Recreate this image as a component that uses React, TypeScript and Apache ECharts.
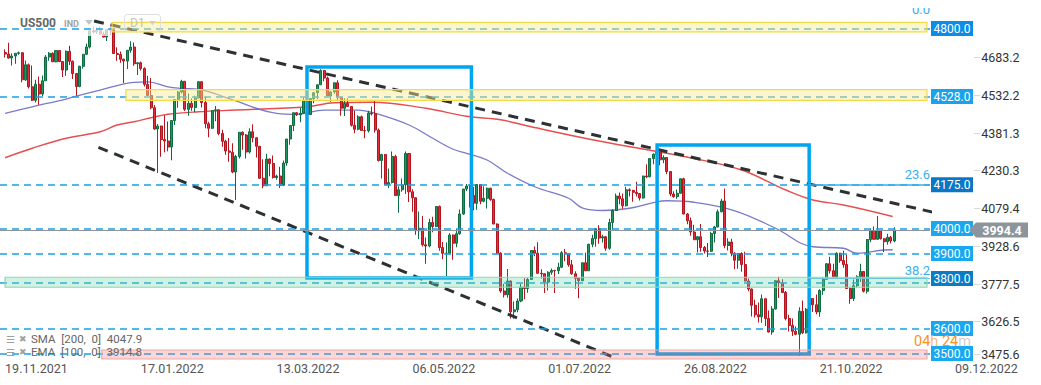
import React, { useEffect, useRef } from "react";
import * as echarts from "echarts";

const FONT = "Roboto, 'Liberation Sans', sans-serif";

// category axis: index 0 is an empty pad, candles occupy 1..263, the rest is empty future space
const categoryCount = 274;
const dateLabels = ["19.11.2021", "17.01.2022", "13.03.2022", "06.05.2022", "01.07.2022", "26.08.2022", "21.10.2022"];
const extraDateLabel = "09.12.2022";
const labelEvery = 40;
const yTickLabels = ["3475.6", "3626.5", "3777.5", "3928.6", "4079.4", "4230.3", "4381.3", "4532.2", "4683.2"];
const yMin = 3475.6;
const yStep = 150.95;
const yMax = 4834.15;

// [open, close, low, high]
const candles = [
  [4704,4698,4684,4717],[4698,4682,4680,4743],[4682,4690,4652,4701],[4690,4701,4659,4702],[4701,4703,4695,4708],
  [4703,4595,4585,4705],[4595,4655,4590,4672],[4655,4567,4560,4660],[4567,4513,4510,4652],[4513,4577,4504,4595],
  [4577,4538,4495,4608],[4538,4591,4530,4612],[4591,4686,4591,4694],[4686,4701,4671,4706],[4701,4667,4667,4705],
  [4667,4712,4665,4713],[4712,4668,4667,4714],[4668,4634,4606,4670],[4634,4709,4611,4712],[4709,4669,4654,4731],
  [4669,4620,4598,4672],[4620,4568,4531,4622],[4568,4649,4565,4651],[4649,4697,4640,4698],[4697,4726,4694,4740],
  [4726,4791,4720,4791],[4791,4786,4780,4807],[4786,4793,4778,4804],[4793,4778,4775,4808],[4778,4766,4765,4787],
  [4766,4797,4750,4797],[4797,4793,4774,4818],[4793,4700,4700,4797],[4700,4696,4671,4725],[4696,4677,4663,4708],
  [4677,4670,4582,4680],[4670,4713,4638,4714],[4713,4726,4703,4749],[4726,4659,4651,4744],[4659,4663,4614,4665],
  [4663,4640,4632,4668],[4640,4577,4568,4645],[4577,4532,4530,4611],[4532,4483,4477,4602],[4483,4398,4395,4494],
  [4398,4410,4222,4418],[4410,4356,4287,4411],[4356,4350,4305,4453],[4350,4326,4309,4428],[4326,4432,4273,4432],
  [4432,4516,4414,4516],[4516,4546,4483,4550],[4546,4589,4540,4595],[4589,4477,4470,4590],[4477,4501,4451,4540],
  [4501,4484,4471,4521],[4484,4522,4465,4531],[4522,4587,4520,4590],[4587,4504,4484,4590],[4504,4419,4401,4527],
  [4419,4401,4365,4427],[4401,4472,4398,4472],[4472,4475,4429,4490],[4475,4380,4373,4476],[4380,4349,4327,4395],
  [4349,4310,4295,4355],[4310,4305,4267,4362],[4305,4226,4221,4341],[4226,4288,4114,4295],[4288,4385,4280,4385],
  [4385,4374,4315,4389],[4374,4306,4280,4378],[4306,4387,4300,4401],[4387,4363,4345,4417],[4363,4329,4284,4365],
  [4329,4201,4199,4330],[4201,4171,4161,4277],[4171,4278,4170,4299],[4278,4260,4209,4280],[4260,4204,4200,4292],
  [4204,4210,4195,4215],[4210,4173,4162,4247],[4173,4262,4170,4272],[4262,4358,4251,4358],[4358,4412,4335,4412],
  [4412,4463,4390,4465],[4463,4455,4450,4466],[4455,4461,4425,4482],[4461,4512,4458,4523],[4512,4456,4455,4513],
  [4456,4520,4455,4520],[4520,4543,4501,4546],[4543,4575,4518,4575],[4575,4632,4575,4637],[4632,4602,4589,4634],
  [4602,4530,4530,4608],[4530,4546,4507,4549],[4546,4583,4539,4583],[4583,4525,4514,4593],[4525,4481,4451,4527],
  [4481,4500,4450,4521],[4500,4488,4487,4521],[4488,4413,4408,4490],[4413,4397,4381,4471],[4397,4447,4393,4453],
  [4447,4392,4392,4452],[4392,4391,4361,4410],[4391,4462,4384,4471],[4462,4459,4452,4488],[4459,4394,4384,4512],
  [4394,4272,4268,4400],[4272,4296,4200,4299],[4296,4175,4175,4298],[4175,4184,4162,4240],[4184,4288,4180,4308],
  [4288,4132,4132,4295],[4132,4155,4063,4169],[4155,4175,4147,4200],[4175,4300,4138,4308],[4300,4147,4106,4302],
  [4147,4123,4067,4157],[4123,3991,3975,4125],[3991,4001,3958,4068],[4001,3935,3928,4050],[3935,3930,3859,3964],
  [3930,4024,3925,4039],[4024,4008,3985,4047],[4008,4088,4005,4090],[4088,3924,3911,4092],[3924,3901,3877,3946],
  [3901,3901,3810,3944],[3901,3974,3895,3981],[3974,3941,3875,3976],[3941,3979,3925,3999],[3979,4058,3975,4076],
  [4058,4158,4055,4158],[4158,4170,4150,4178],[4170,4132,4084,4175],[4132,4101,4073,4166],[4101,4176,4075,4177],
  [4176,4109,4097,4178],[4109,4121,4105,4169],[4121,4161,4080,4164],[4161,4116,4111,4163],[4116,4018,4017,4120],
  [4018,3901,3900,4020],[3901,3750,3743,3905],[3750,3735,3724,3779],[3735,3790,3723,3838],[3790,3667,3640,3792],
  [3667,3675,3639,3708],[3675,3710,3665,3720],[3710,3765,3705,3779],[3765,3760,3717,3801],[3760,3796,3743,3802],
  [3796,3912,3795,3913],[3912,3901,3889,3928],[3901,3821,3820,3945],[3821,3819,3800,3837],[3819,3785,3742,3820],
  [3785,3825,3752,3829],[3825,3832,3815,3840],[3832,3831,3742,3835],[3831,3845,3818,3863],[3845,3903,3843,3910],
  [3903,3899,3869,3918],[3899,3855,3847,3900],[3855,3819,3815,3874],[3819,3801,3759,3829],[3801,3791,3721,3803],
  [3791,3863,3790,3863],[3863,3831,3831,3903],[3831,3937,3830,3939],[3937,3960,3925,3975],[3960,3999,3927,3999],
  [3999,3962,3939,4013],[3962,3967,3944,3975],[3967,3921,3911,3970],[3921,4024,3915,4039],[4024,4072,3992,4078],
  [4072,4130,4070,4140],[4130,4119,4097,4144],[4119,4091,4079,4140],[4091,4155,4088,4167],[4155,4152,4128,4161],
  [4152,4145,4107,4155],[4145,4140,4128,4187],[4140,4122,4112,4142],[4122,4210,4120,4211],[4210,4207,4201,4257],
  [4207,4280,4205,4280],[4280,4297,4257,4301],[4297,4305,4278,4325],[4305,4275,4253,4306],[4275,4284,4261,4293],
  [4284,4228,4218,4285],[4228,4138,4129,4230],[4138,4128,4123,4149],[4128,4141,4119,4156],[4141,4199,4140,4200],
  [4199,4058,4057,4203],[4058,4031,4017,4062],[4031,3986,3971,4044],[3986,3955,3954,4015],[3955,3967,3904,3970],
  [3967,3924,3907,4018],[3924,3910,3900,3930],[3910,3909,3886,3942],[3909,3980,3906,3987],[3980,4006,3944,4010],
  [4006,4067,4005,4076],[4067,4110,4065,4119],[4110,3932,3921,4160],[3932,3946,3912,3961],[3946,3901,3889,3959],
  [3901,3873,3837,3905],[3873,3900,3839,3901],[3900,3856,3827,3905],[3856,3790,3789,3907],[3790,3758,3749,3800],
  [3758,3693,3648,3760],[3693,3655,3644,3715],[3655,3647,3624,3704],[3647,3719,3623,3736],[3719,3640,3610,3720],
  [3640,3586,3584,3672],[3586,3678,3575,3689],[3678,3791,3676,3792],[3791,3783,3722,3807],[3783,3744,3743,3797],
  [3744,3640,3633,3750],[3640,3612,3588,3655],[3612,3589,3570,3640],[3589,3577,3573,3608],[3577,3669,3491,3685],
  [3669,3583,3578,3712],[3583,3677,3580,3682],[3677,3720,3677,3763],[3720,3695,3666,3722],[3695,3666,3657,3736],
  [3666,3752,3647,3757],[3752,3797,3735,3805],[3797,3859,3795,3862],[3859,3831,3820,3887],[3831,3807,3803,3859],
  [3807,3901,3800,3905],[3901,3872,3863,3903],[3872,3856,3843,3911],[3856,3760,3759,3894],[3760,3720,3699,3765],
  [3720,3771,3710,3796],[3771,3807,3764,3813],[3807,3828,3786,3859],[3828,3749,3744,3830],[3749,3956,3740,3958],
  [3956,3992,3945,4001],[3992,3957,3956,4008],[3957,3991,3954,4050],[3991,3959,3956,3995],[3959,3947,3906,3962],
  [3947,3965,3935,3979],[3965,3950,3940,3970],[3950,3994.4,3945,4005],
];

// moving averages: [category index, value]
const sma200 = [
  [1,4283],[9,4321],[19,4361],[29,4387],[34,4414],[39,4427],[44,4443],[49,4457],[58,4467],[69,4474],
  [90,4487],[98,4503],[109,4505],[125,4481],[137,4449],[147,4435],[156,4407],[176,4350],[204,4280],
  [218,4234],[231,4154],[239,4114],[248,4094],[262.5,4048],
];
const ema100 = [
  [1,4461],[9,4487],[19,4518],[22,4530],[29,4554],[39,4585],[43,4587],[49,4567],[53,4561],[58,4557],
  [67,4520],[81,4461],[87,4457],[95,4474],[105,4474],[110,4461],[120,4414],[127,4361],[133,4317],
  [137,4301],[143,4274],[149,4221],[157,4167],[167,4121],[171,4083],[177,4072],[185,4081],[193,4107],
  [196,4111],[204,4105],[216,4071],[228,4001],[239,3927],[248,3921],[252,3901],[260,3914],[262.5,3915],
];

const currentPrice = 3994.4;
const levelLines = [4800, 4528, 4175, 4000, 3900, 3783, 3600, 3500];
const priceTags = [4800, 4528, 4175, 4000, 3900, 3800, 3600, 3500];
const tagColors = ["#0b8ce6", "#19a2ee", "#0a76c6", "#19a7ef", "#19a7ef", "#0a7cc6", "#19a7ef", "#19a7ef"];

// zones: [fromIndex, toIndex, lowPrice, highPrice]
const bands = [
  [32.5, 272.6, 4787, 4825],
  [36.6, 272.6, 4513, 4556],
  [1.0, 272.6, 3765, 3805],
  [29.5, 272.6, 3478, 3514],
];
const bandFills = ["rgba(250,232,140,0.45)", "rgba(250,232,140,0.45)", "rgba(110,215,170,0.32)", "rgba(240,110,110,0.28)"];
const bandStrokes = ["#f2da48", "#f2da48", "#8fd6b6", "#f2a7a7"];

// drawings: [index, price]
const upperTrend = [[27.2, 4830], [283.2, 4038]];
const lowerTrend = [[28.5, 4325], [179.6, 3489]];
const box1 = [[89.95, 4646], [138.4, 4646], [138.4, 3802], [89.95, 3802], [89.95, 4646], [138.4, 4646]];
const box2 = [[193.1, 4334], [237.9, 4334], [237.9, 3498], [193.1, 3498], [193.1, 4334], [237.9, 4334]];
const fibLevels = [
  { label: "23.6", price: 4175, from: 237.9, to: 273.5 },
  { label: "38.2", price: 3801, from: 237.9, to: 273.5 },
];
const fibTopLabel = "0.0";
const timerText = { hours: "04", minutes: "24" };
const legendRows = ["SMA  [200,  0]  4047.9", "EMA  [100,  0]  3914.8"];

export default function App() {
  const ref = useRef<HTMLDivElement>(null);

  useEffect(() => {
    const chart = echarts.init(ref.current!, null, { renderer: "svg" });
    const categories = Array.from({ length: categoryCount }, (_, k) => String(k));
    const candleData: any[] = ["-", ...candles];

    const option: any = {
      animation: false,
      backgroundColor: "#ffffff",
      grid: { left: 0, right: 111, top: 20, bottom: 25.4, containLabel: false },
      xAxis: [
        {
          type: "category",
          data: categories,
          boundaryGap: true,
          axisLine: { show: false },
          axisTick: { show: false },
          splitLine: { show: false },
          axisLabel: {
            interval: (index: number) => index >= 1 && (index - 1) % labelEvery === 0,
            formatter: (_v: string, index: number) => dateLabels[(index - 1) / labelEvery] ?? "",
            align: "left",
            margin: 2,
            color: "#555",
            fontSize: 12.5,
            fontFamily: FONT,
          },
        },
        { type: "value", min: -0.5, max: categoryCount - 0.5, show: false },
      ],
      yAxis: {
        type: "value",
        position: "right",
        min: yMin,
        max: yMax,
        interval: yStep,
        offset: 43,
        scale: true,
        axisLine: { show: false },
        axisTick: { show: false },
        splitLine: { show: false },
        axisLabel: {
          margin: 0,
          color: "#333",
          fontSize: 12.5,
          fontFamily: FONT,
          formatter: (v: number) => {
            const k = Math.round((v - yMin) / yStep);
            if (k < 0 || k >= yTickLabels.length || Math.abs(v - (yMin + k * yStep)) > 0.5) return "";
            const s = k === 0 ? "l" : "n";
            return `{t${s}|–}{${s}|${yTickLabels[k]}}`;
          },
          rich: {
            tn: { color: "#d8d8d8", fontSize: 12.5, fontFamily: FONT },
            n: { color: "#333", fontSize: 12.5, fontFamily: FONT },
            tl: { color: "#d8d8d8", fontSize: 12.5, fontFamily: FONT, padding: [0, 0, 10, 0] },
            l: { color: "#333", fontSize: 12.5, fontFamily: FONT, padding: [0, 0, 10, 0] },
          },
        },
      },
      series: [
        {
          type: "candlestick",
          xAxisIndex: 0,
          yAxisIndex: 0,
          data: candleData,
          barWidth: "74%",
          z: 2,
          itemStyle: {
            color: "#23955f",
            color0: "#e12d3d",
            borderColor: "#0f6b40",
            borderColor0: "#b3151f",
            borderWidth: 1,
          },
          markLine: {
            silent: true,
            symbol: ["none", "none"],
            label: { show: false },
            lineStyle: { type: [7, 5], color: "#1ca0e6", width: 1.5 },
            data: [
              ...levelLines.map((p) => ({ yAxis: p })),
              { yAxis: currentPrice, lineStyle: { type: "solid", color: "#8c959b", width: 1 } },
            ],
          },
        },
        {
          type: "line",
          name: "SMA",
          xAxisIndex: 1,
          data: sma200,
          smooth: 0.4,
          symbol: "none",
          z: 2,
          lineStyle: { color: "#e23c3c", width: 1.4, opacity: 0.9 },
        },
        {
          type: "line",
          name: "EMA",
          xAxisIndex: 1,
          data: ema100,
          smooth: 0.4,
          symbol: "none",
          z: 2,
          lineStyle: { color: "#6a6cc2", width: 1.3, opacity: 0.9 },
        },
        {
          type: "line",
          xAxisIndex: 1,
          data: upperTrend,
          symbol: "none",
          clip: false,
          z: 4,
          lineStyle: { color: "#2c3134", width: 3, type: [10, 7] },
        },
        {
          type: "line",
          xAxisIndex: 1,
          data: lowerTrend,
          symbol: "none",
          clip: false,
          z: 4,
          lineStyle: { color: "#2c3134", width: 3, type: [10, 7] },
        },
        {
          type: "line",
          xAxisIndex: 1,
          data: box1,
          symbol: "none",
          clip: false,
          z: 4,
          lineStyle: { color: "#00a5ef", width: 3.5, join: "miter" },
        },
        {
          type: "line",
          xAxisIndex: 1,
          data: box2,
          symbol: "none",
          clip: false,
          z: 4,
          lineStyle: { color: "#00a5ef", width: 3.5, join: "miter" },
          markLine: {
            silent: true,
            symbol: ["none", "none"],
            label: { show: false },
            data: fibLevels.map((f, i) => [
              { coord: [f.from, f.price], lineStyle: { type: "solid", color: i === 0 ? "#3aaeee" : "#6cc2ea", width: i === 0 ? 1.5 : 1 } },
              { coord: [f.to, f.price] },
            ]),
          },
        },
        {
          type: "custom",
          xAxisIndex: 1,
          yAxisIndex: 0,
          z: 6,
          silent: true,
          clip: false,
          data: bands,
          encode: { x: [0, 1], y: [2, 3] },
          renderItem: (params: any, api: any) => {
            const a = api.coord([api.value(0), api.value(3)]);
            const b = api.coord([api.value(1), api.value(2)]);
            return {
              type: "rect",
              shape: { x: a[0], y: a[1], width: b[0] - a[0], height: b[1] - a[1] },
              style: { fill: bandFills[params.dataIndex], stroke: bandStrokes[params.dataIndex], lineWidth: 1.2 },
            };
          },
        },
        {
          type: "custom",
          xAxisIndex: 1,
          yAxisIndex: 0,
          z: 10,
          silent: true,
          clip: false,
          data: priceTags.map((p) => [0, p]),
          encode: { x: 0, y: 1 },
          renderItem: (params: any, api: any) => {
            const y = api.coord([0, api.value(1)])[1];
            return {
              type: "group",
              children: [
                { type: "rect", shape: { x: 931, y: y - 7.5, width: 42, height: 15 }, style: { fill: tagColors[params.dataIndex] } },
                {
                  type: "text",
                  style: {
                    text: api.value(1).toFixed(1),
                    x: 952,
                    y: y + 0.5,
                    align: "center",
                    verticalAlign: "middle",
                    fill: "#fff",
                    font: `12px ${FONT}`,
                    lineHeight: 12,
                  },
                },
              ],
            };
          },
        },
        {
          type: "custom",
          xAxisIndex: 1,
          yAxisIndex: 0,
          z: 10,
          silent: true,
          clip: false,
          data: [[0, currentPrice]],
          encode: { x: 0, y: 1 },
          renderItem: (_params: any, api: any) => {
            const y = api.coord([0, api.value(1)])[1];
            return {
              type: "group",
              children: [
                {
                  type: "polygon",
                  shape: { points: [[969, y], [976, y - 7.5], [1028, y - 7.5], [1028, y + 7.5], [976, y + 7.5]] },
                  style: { fill: "#8c959b" },
                },
                {
                  type: "text",
                  style: {
                    text: api.value(1).toFixed(1),
                    x: 1002,
                    y: y + 0.5,
                    align: "center",
                    verticalAlign: "middle",
                    fill: "#fff",
                    font: `bold 12.5px ${FONT}`,
                  },
                },
              ],
            };
          },
        },
        {
          // texts drawn on top of everything (timer, fib top label)
          type: "custom",
          xAxisIndex: 1,
          yAxisIndex: 0,
          z: 12,
          silent: true,
          clip: false,
          data: [[0, yMin]],
          encode: { x: 0, y: 1 },
          renderItem: () => ({
            type: "group",
            children: [
              {
                type: "text",
                style: {
                  text: fibTopLabel,
                  x: 930,
                  y: 16,
                  align: "right",
                  verticalAlign: "bottom",
                  fill: "#3aaeee",
                  font: `13px ${FONT}`,
                },
              },
              { type: "rect", shape: { x: 900, y: 0, width: 40, height: 8 }, style: { fill: "#fff" } },
              {
                type: "text",
                style: {
                  text: `{o|${timerText.hours}}{h|h }{o|${timerText.minutes}}{m|m}`,
                  x: 914,
                  y: 341.5,
                  verticalAlign: "middle",
                  rich: {
                    o: { fill: "#f7941d", fontSize: 14.5, fontFamily: FONT, lineHeight: 10 },
                    h: { fill: "#f3bd80", fontSize: 14.5, fontFamily: FONT, lineHeight: 10 },
                    m: { fill: "#cfcfcf", fontSize: 14.5, fontFamily: FONT, lineHeight: 10 },
                  },
                },
              },
            ],
          }),
        },
      ],
      graphic: {
        elements: [
          { type: "rect", z: 3, silent: true, shape: { x: 0, y: 8, width: 112, height: 28 }, style: { fill: "rgba(255,255,255,0.72)" } },
          { type: "text", z: 20, x: 20, y: 23, style: { text: "US500", fill: "#666", font: "bold 12px Roboto", verticalAlign: "middle" } },
          { type: "text", z: 20, x: 64, y: 24, style: { text: "IND", fill: "#a3a3a3", font: "bold 9px Roboto", verticalAlign: "middle" } },
          { type: "polygon", z: 20, shape: { points: [[85, 20], [93, 20], [89, 25]] }, style: { fill: "#c4c4c4" } },
          { type: "rect", z: 20, shape: { x: 124.5, y: 14.5, width: 36, height: 17, r: 3 }, style: { fill: "none", stroke: "#dedede", lineWidth: 1 } },
          { type: "text", z: 20, x: 130, y: 23, style: { text: "D1", fill: "#c2c2c2", font: "12px Roboto", verticalAlign: "middle" } },
          { type: "polygon", z: 20, shape: { points: [[149, 21], [156, 21], [152.5, 25]] }, style: { fill: "#cfcfcf" } },
          { type: "text", z: 20, x: 930, y: 181, style: { text: fibLevels[0].label, fill: "#3aaeee", font: `13px ${FONT}`, align: "right", verticalAlign: "bottom" } },
          { type: "text", z: 20, x: 930, y: 277, style: { text: fibLevels[1].label, fill: "#3aaeee", font: `13px ${FONT}`, align: "right", verticalAlign: "bottom" } },
          { type: "text", z: 20, x: 955, y: 361.6, style: { text: extraDateLabel, fill: "#555", font: `12.5px ${FONT}`, verticalAlign: "top" } },
          { type: "text", z: 20, x: 6, y: 339, style: { text: "☰", fill: "#a0a0a0", font: "10px 'DejaVu Sans'", verticalAlign: "middle" } },
          { type: "text", z: 20, x: 19, y: 339, style: { text: "✖", fill: "#a0a0a0", font: "9px 'DejaVu Sans'", verticalAlign: "middle" } },
          { type: "text", z: 20, x: 31, y: 339, style: { text: legendRows[0], fill: "#666", font: `11.5px ${FONT}`, verticalAlign: "middle" } },
          { type: "text", z: 20, x: 6, y: 352, style: { text: "☰", fill: "#a0a0a0", font: "10px 'DejaVu Sans'", verticalAlign: "middle" } },
          { type: "text", z: 20, x: 19, y: 352, style: { text: "✖", fill: "#a0a0a0", font: "9px 'DejaVu Sans'", verticalAlign: "middle" } },
          { type: "text", z: 20, x: 31, y: 352, style: { text: legendRows[1], fill: "#666", font: `11.5px ${FONT}`, verticalAlign: "middle" } },
        ],
      },
    };

    chart.setOption(option);
    return () => chart.dispose();
  }, []);

  return (
    <div
      ref={ref}
      style={{ position: "fixed", left: 0, top: 0, width: 1041, height: 385, background: "#fff" }}
    />
  );
}
